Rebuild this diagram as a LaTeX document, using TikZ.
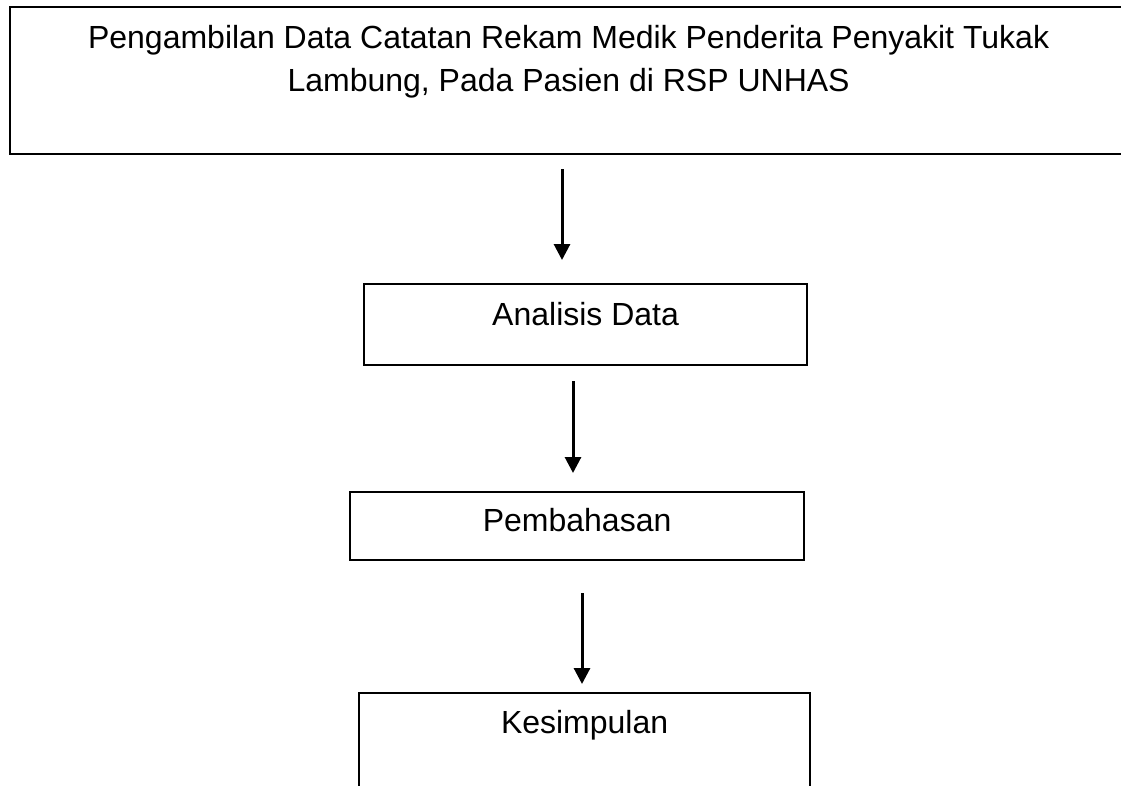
\documentclass[tikz,border=0pt]{standalone}
\usepackage{fontspec}
\setmainfont{Liberation Sans}
\usetikzlibrary{arrows.meta}
\tikzset{%
  box/.style={draw,line width=2.2pt,rectangle,anchor=north west,inner ysep=0pt,
    font=\fontsize{32}{43}\selectfont},
  flow/.style={line width=3pt,-{Triangle[width=16pt,length=16pt]}}
}

\begin{document}
\begin{tikzpicture}[x=1pt,y=-1pt]
  \clip (0,0) rectangle (1121,785);
  %%% boxes
  \node[box,minimum width=1117,text height=84pt,text depth=63pt,align=center]
    (ambil) at (9,6) {Pengambilan Data Catatan Rekam Medik Penderita Penyakit Tukak\\
    Lambung, Pada Pasien di RSP UNHAS};
  \node[box,minimum width=443,text height=41pt,text depth=40pt] (analisis) at (363,283) {Analisis Data};
  \node[box,minimum width=454,text height=39pt,text depth=29pt] (bahas) at (349,491) {Pembahasan};
  \node[box,minimum width=451,text height=40pt,text depth=90pt] (simpul) at (358,692) {Kesimpulan};
  %%% arrows
  \coordinate (x1) at (562,0);
  \coordinate (x2) at (573,0);
  \coordinate (x3) at (582,0);
  \draw[flow,shorten <=14pt,shorten >=23pt] (ambil.south -| x1) -- (analisis.north -| x1);
  \draw[flow,shorten <=15pt,shorten >=18pt] (analisis.south -| x2) -- (bahas.north -| x2);
  \draw[flow,shorten <=32pt,shorten >=8pt] (bahas.south -| x3) -- (simpul.north -| x3);
\end{tikzpicture}
\end{document}
